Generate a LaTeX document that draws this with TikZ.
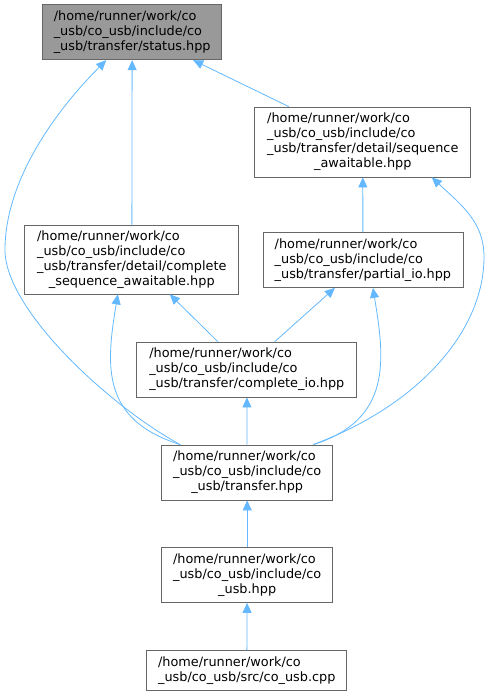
\documentclass[tikz,border=0pt]{standalone}
\usepackage{fontspec}
\setmainfont{DejaVu Sans}
\usetikzlibrary{arrows.meta}
\definecolor{edgeblue}{HTML}{63B8FF}
\definecolor{boxgray}{HTML}{666666}
\definecolor{topfill}{HTML}{999999}
\newcommand{\lastline}[1]{\hfill#1\hfill\null}

\begin{document}
\begin{tikzpicture}[x=1pt, y=-1pt,
    file/.style={draw=boxgray, fill=white, line width=0.8pt, inner sep=0pt, align=left, font=\fontsize{12.85}{15}\selectfont},
    dep/.style={{Triangle[length=10pt,width=9pt]}-, draw=edgeblue, line width=0.8pt}]
      \useasboundingbox (0,0) rectangle (490,696);
      \node[file, fill=topfill, minimum width=179pt, minimum height=55pt] (status) at (132.2,32.3)
        {/home/runner/work/co\\\_usb/co\_usb/include/co\\\_usb/transfer/status.hpp};
      \node[file, minimum width=216pt, minimum height=70pt] (seqaw) at (362.8,142)
        {/home/runner/work/co\\\_usb/co\_usb/include/co\\\_usb/transfer/detail/sequence\\\lastline{\_awaitable.hpp}};
      \node[file, minimum width=200pt, minimum height=55pt] (partial) at (362.9,260)
        {/home/runner/work/co\\\_usb/co\_usb/include/co\\\_usb/transfer/partial\_io.hpp};
      \node[file, minimum width=214pt, minimum height=69pt] (cseqaw) at (131.8,259.5)
        {/home/runner/work/co\\\_usb/co\_usb/include/co\\\_usb/transfer/detail/complete\\\lastline{\_sequence\_awaitable.hpp}};
      \node[file, minimum width=220pt, minimum height=55pt] (compio) at (246.8,369.5)
        {/home/runner/work/co\\\_usb/co\_usb/include/co\\\_usb/transfer/complete\_io.hpp};
      \node[file, minimum width=171pt, minimum height=55pt] (transfer) at (247.2,472.5)
        {/home/runner/work/co\\\_usb/co\_usb/include/co\\\lastline{\_usb/transfer.hpp}};
      \node[file, minimum width=171pt, minimum height=55pt] (cousbh) at (247.2,575)
        {/home/runner/work/co\\\_usb/co\_usb/include/co\\\lastline{\_usb.hpp}};
      \node[file, minimum width=200pt, minimum height=40pt] (cousbcpp) at (246.8,670.7)
        {/home/runner/work/co\\\_usb/co\_usb/src/co\_usb.cpp};
      \coordinate (lbend) at (5,250);
      \coordinate (rbend) at (484,257);
      \foreach \p/\c in {status/cseqaw, seqaw/partial, compio/transfer, transfer/cousbh, cousbh/cousbcpp}
      \draw[dep] (\p) -- (\c);
      \draw[dep] ([xshift=61pt]status.south) -- ([xshift=-74pt]seqaw.north);
      \draw[dep] ([xshift=38pt]cseqaw.south) -- ([xshift=-29pt]compio.north);
      \draw[dep] ([xshift=-28pt]partial.south) -- ([xshift=28pt]compio.north);
      \draw[dep] ([xshift=10pt]partial.south) .. controls +(12,72) and +(79,-25) .. ([xshift=66pt]transfer.north);
      \draw[dep] ([xshift=-14pt]cseqaw.south) .. controls +(-12,72) and +(-79,-25) .. ([xshift=-67pt]transfer.north);
      \draw[dep] ([xshift=-26pt]status.south) .. controls +(-50,50) and +(0,-70) .. (lbend)
        .. controls +(0,60) and +(-70,-38) .. ([xshift=-67pt]transfer.north);
      \draw[dep] ([xshift=69pt]seqaw.south) .. controls +(30,28) and +(0,-35) .. (rbend)
        .. controls +(0,73) and +(107,-40) .. ([xshift=66pt]transfer.north);
    \end{tikzpicture}
\end{document}
